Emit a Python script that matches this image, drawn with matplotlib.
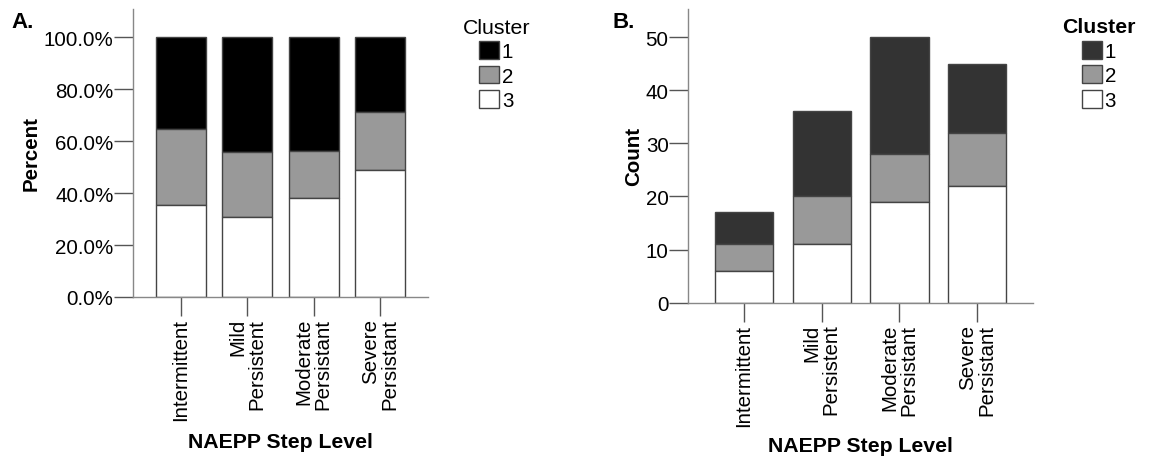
"""
Cluster membership by NAEPP step level: percent (A) and count (B)
"""

import matplotlib
matplotlib.use("Agg")
import matplotlib.pyplot as plt
import numpy as np
from matplotlib.ticker import PercentFormatter

# data
step_levels = ["Intermittent", "Mild\nPersistent", "Moderate\nPersistant", "Severe\nPersistant"]
clusters = ["1", "2", "3"]

pct_c1 = [35.3, 44.4, 44.0, 28.9]
pct_c2 = [29.4, 25.0, 18.0, 22.2]
pct_c3 = [35.3, 30.6, 38.0, 48.9]

cnt_c1 = [6, 16, 22, 13]
cnt_c2 = [5, 9, 9, 10]
cnt_c3 = [6, 11, 19, 22]

plt.rcParams["font.family"] = ["Liberation Sans", "DejaVu Sans"]
FS = 14.8


def stacked(ax, c1, c2, c3, colors):
    x = np.arange(len(step_levels))
    c3 = np.array(c3, dtype=float)
    c2 = np.array(c2, dtype=float)
    c1 = np.array(c1, dtype=float)
    handles = []
    handles.append(ax.bar(x, c1, 0.75, bottom=c3 + c2, color=colors[0],
                          edgecolor="#444444", linewidth=1))
    handles.append(ax.bar(x, c2, 0.75, bottom=c3, color=colors[1],
                          edgecolor="#444444", linewidth=1))
    handles.append(ax.bar(x, c3, 0.75, color=colors[2],
                          edgecolor="#444444", linewidth=1))
    ax.set_xlim(-0.72, len(step_levels) - 1 + 0.72)
    ax.set_xticks(x)
    ax.set_xticklabels(step_levels, rotation=90, fontsize=FS, ha="center",
                       va="top", multialignment="right", linespacing=1.0)
    ax.tick_params(axis="x", length=14, width=1, color="#555555", pad=1)
    ax.tick_params(axis="y", length=14, width=1, color="#555555", pad=0,
                   labelsize=FS)
    for s in ["top", "right"]:
        ax.spines[s].set_visible(False)
    for s in ["left", "bottom"]:
        ax.spines[s].set_color("#888888")
        ax.spines[s].set_linewidth(1)
    ax.set_xlabel("NAEPP Step Level", fontsize=FS + 0.5, fontweight="bold")
    return handles


fig = plt.figure(figsize=(11.49, 4.6), dpi=100)

# A. percent
ax1 = fig.add_axes([0.1158, 0.3522, 0.2567, 0.6261])
h1 = stacked(ax1, pct_c1, pct_c2, pct_c3, ["#000000", "#999999", "#ffffff"])
ax1.set_ylim(0, 110.8)
ax1.set_yticks([0, 20, 40, 60, 80, 100])
ax1.yaxis.set_major_formatter(PercentFormatter(decimals=1))
ax1.set_ylabel("Percent", fontsize=FS, fontweight="bold")
ax1.yaxis.set_label_coords(-0.315, 0.5)
ax1.xaxis.set_label_coords(0.5, -0.469)
leg1 = ax1.legend(h1, clusters, loc="upper center", bbox_to_anchor=(1.231, 1.02),
                  frameon=False, fontsize=FS, title="Cluster",
                  title_fontsize=FS + 0.5, handlelength=0.95, handleheight=0.95,
                  labelspacing=0.22, handletextpad=0.15, borderpad=0.2)
fig.text(0.010, 0.975, "A.", fontsize=16, fontweight="bold", va="top")

# B. count
ax2 = fig.add_axes([0.5988, 0.3398, 0.3003, 0.6385])
h2 = stacked(ax2, cnt_c1, cnt_c2, cnt_c3, ["#333333", "#999999", "#ffffff"])
ax2.set_ylim(0, 55.3)
ax2.set_yticks([0, 10, 20, 30, 40, 50])
ax2.set_ylabel("Count", fontsize=FS, fontweight="bold")
ax2.yaxis.set_label_coords(-0.130, 0.5)
ax2.xaxis.set_label_coords(0.5, -0.454)
leg2 = ax2.legend(h2, clusters, loc="upper center", bbox_to_anchor=(1.191, 1.02),
                  frameon=False, fontsize=FS, title="Cluster",
                  title_fontproperties={"size": FS + 0.5, "weight": "bold"},
                  handlelength=0.95, handleheight=0.95,
                  labelspacing=0.22, handletextpad=0.15, borderpad=0.2)
fig.text(0.533, 0.975, "B.", fontsize=16, fontweight="bold", va="top")

fig.savefig("out.png", dpi=100)
